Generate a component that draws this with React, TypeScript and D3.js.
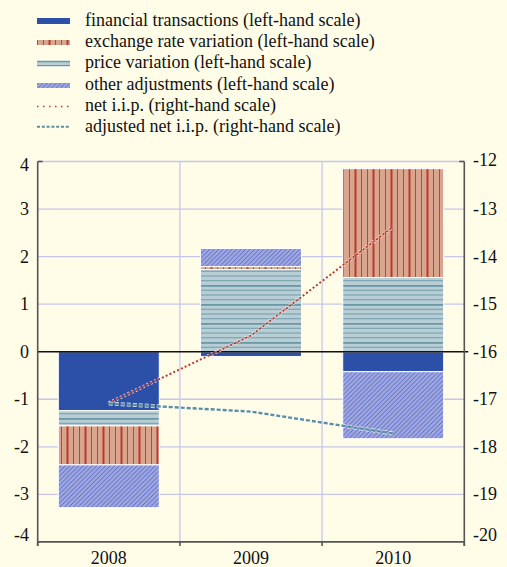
import React from 'react';
import * as d3 from 'd3';

// --- Data ---
const years = ['2008', '2009', '2010'];
const financialTransactions = [-1.24, -0.1, -0.42];
const priceVariation = [-0.32, 1.73, 1.56];
const exchangeRateVariation = [-0.82, 0.06, 2.29];
const otherAdjustments = [-0.9, 0.38, -1.41];
const netIip = [-17.08, -15.66, -13.37];
const adjustedNetIip = [-17.09, -17.26, -17.72];

const leftTicks = [4, 3, 2, 1, 0, -1, -2, -3, -4];
const rightTicks = [-12, -13, -14, -15, -16, -17, -18, -19, -20];

const legendLabels = [
  'financial transactions (left-hand scale)',
  'exchange rate variation (left-hand scale)',
  'price variation (left-hand scale)',
  'other adjustments (left-hand scale)',
  'net i.i.p. (right-hand scale)',
  'adjusted net i.i.p. (right-hand scale)',
];

const W = 507;
const H = 567;
const BG = '#FFFDE8';
const GRID = '#C6C6EC';
const AXIS = '#555555';
const FONT = 'Liberation Serif';

const keys = ['financial', 'price', 'exchange', 'other'];
const fills: Record<string, string> = {
  financial: '#2C4FA7',
  price: 'url(#pricePat)',
  exchange: 'url(#exchPat)',
  other: 'url(#otherPat)',
};

const App = () => {
  const margin = { left: 37.7, right: W - 464.3, top: 161.5, bottom: H - 541.9 };

  const x = d3.scaleBand<string>()
    .domain(years)
    .range([margin.left, W - margin.right])
    .paddingInner(0.29)
    .paddingOuter(0.145);

  const yLeft = d3.scaleLinear().domain([-4, 4]).range([H - margin.bottom, margin.top]);
  const yRight = d3.scaleLinear().domain([-20, -12]).range([H - margin.bottom, margin.top]);

  const rows = years.map((yr, i) => ({
    year: yr,
    financial: financialTransactions[i],
    price: priceVariation[i],
    exchange: exchangeRateVariation[i],
    other: otherAdjustments[i],
  }));

  const series = d3.stack<any>()
    .keys(keys)
    .offset(d3.stackOffsetDiverging)(rows);

  const cx = (yr: string) => (x(yr) as number) + x.bandwidth() / 2;

  const line = d3.line<number>()
    .x((_, i) => cx(years[i]))
    .y(d => yRight(d));

  const x0 = margin.left;
  const x1 = W - margin.right;
  const step = x.step();
  const boundaries = [x0, x0 + step, x0 + 2 * step, x1];

  return (
    <svg width={W} height={H} style={{ position: 'absolute', left: 0, top: 0, background: BG }}>
      <defs>
        <pattern id="exchPat" patternUnits="userSpaceOnUse" width="18" height="10">
          <rect width="18" height="10" fill="#D9A58E" />
          <rect x="1" width="1" height="10" fill="#BE4636" />
          <rect x="7" width="1" height="10" fill="#BE4636" />
          <rect x="12.5" width="2" height="10" fill="#B93A2C" />
        </pattern>
        <pattern id="pricePat" patternUnits="userSpaceOnUse" width="10" height="19">
          <rect width="10" height="19" fill="#B9CED4" />
          <rect y="0" width="10" height="1.8" fill="#6A98A6" />
          <rect y="4.75" width="10" height="1" fill="#6E9CAA" />
          <rect y="9.5" width="10" height="1" fill="#6E9CAA" />
          <rect y="14.25" width="10" height="1" fill="#6E9CAA" />
        </pattern>
        <pattern id="otherPat" patternUnits="userSpaceOnUse" width="4.5" height="4.5">
          <rect width="4.5" height="4.5" fill="#9EA6DF" />
          <path d="M-1,1 l2,-2 M0,4.5 l4.5,-4.5 M3.5,5.5 l2,-2" stroke="#3F53B5" strokeWidth="0.7" />
        </pattern>
      </defs>

      {/* legend */}
      <g style={{ fontFamily: FONT, fontSize: '18px' }} fill="#111">
        <rect x={37} y={18} width={33} height={6} fill={fills.financial} />
        <rect x={37} y={40} width={33} height={5} fill="url(#exchPat)" />
        <rect x={37} y={60.5} width={33} height={6} fill="#B9CED4" />
        <line x1={37} x2={70} y1={61.7} y2={61.7} stroke="#6A98A6" strokeWidth={1.2} />
        <line x1={37} x2={70} y1={65.5} y2={65.5} stroke="#6A98A6" strokeWidth={1.2} />
        <rect x={37} y={83} width={33} height={5} fill="url(#otherPat)" />
        <line x1={37} x2={70} y1={106.5} y2={106.5} stroke="#C0392B" strokeWidth={1.5} strokeDasharray="1.5 4.5" />
        <line x1={37} x2={70} y1={126.7} y2={126.7} stroke="#5A8FA0" strokeWidth={2} strokeDasharray="3 1.8" />
        {legendLabels.map((t, i) => (
          <text key={t} x={85} y={26 + i * 21.2}>{t}</text>
        ))}
      </g>

      {/* grid */}
      <g stroke={GRID} strokeWidth={1.3}>
        {leftTicks.filter(t => t !== 0 && t !== -4).map(t => (
          <line key={t} x1={x0} x2={x1} y1={yLeft(t)} y2={yLeft(t)} />
        ))}
        {boundaries.slice(1, 3).map((b, i) => (
          <line key={i} x1={b} x2={b} y1={yLeft(4)} y2={yLeft(-4)} />
        ))}
      </g>

      {/* bars */}
      {series.map(s => (
        <g key={s.key} fill={fills[s.key]} stroke="#fff" strokeWidth={1}>
          {s.map((d, i) => {
            const top = yLeft(Math.max(d[0], d[1]));
            const bot = yLeft(Math.min(d[0], d[1]));
            if (bot - top < 0.1) return null;
            return (
              <rect key={i} x={x(years[i])} y={top} width={x.bandwidth()} height={bot - top} />
            );
          })}
        </g>
      ))}

      {/* zero line */}
      <line x1={x0} x2={x1 + 4} y1={yLeft(0)} y2={yLeft(0)} stroke="#111" strokeWidth={1.6} />

      {/* lines */}
      <path d={line(netIip) as string} fill="none" stroke="#fff" strokeOpacity={0.8} strokeWidth={3.5} strokeDasharray="2 2.2" />
      <path d={line(netIip) as string} fill="none" stroke="#C0392B" strokeWidth={2} strokeDasharray="2 2.2" />
      <path d={line(adjustedNetIip) as string} fill="none" stroke="#fff" strokeOpacity={0.8} strokeWidth={4} strokeDasharray="4 2" />
      <path d={line(adjustedNetIip) as string} fill="none" stroke="#5A8FA0" strokeWidth={2.4} strokeDasharray="4 2" />

      {/* axes */}
      <g stroke={AXIS} strokeWidth={1.6} fill="none">
        <line x1={x0} x2={x0} y1={yLeft(4)} y2={yLeft(-4) + 4} />
        <line x1={x1} x2={x1} y1={yLeft(4)} y2={yLeft(-4) + 4} />
        <line x1={x0} x2={x1} y1={yLeft(-4)} y2={yLeft(-4)} />
        {boundaries.map((b, i) => (
          <line key={i} x1={b} x2={b} y1={yLeft(-4)} y2={yLeft(-4) + 4} />
        ))}
        <line x1={x0} x2={x0 + 5} y1={yLeft(4)} y2={yLeft(4)} />
        <line x1={x1 - 5} x2={x1} y1={yLeft(4)} y2={yLeft(4)} />
      </g>

      <g style={{ fontFamily: FONT, fontSize: '18px' }} fill="#111">
        {leftTicks.map(t => (
          <text key={t} x={29} y={yLeft(t) + (t === -4 ? -1 : t === 4 ? 9 : 6)} textAnchor="end">{t}</text>
        ))}
        {rightTicks.map(t => (
          <text key={t} x={473} y={yRight(t) + (t === -20 ? -1 : t === -12 ? 4 : 6)}>{t}</text>
        ))}
        {years.map(yr => (
          <text key={yr} x={cx(yr)} y={564} textAnchor="middle">{yr}</text>
        ))}
      </g>
    </svg>
  );
};

export default App;
